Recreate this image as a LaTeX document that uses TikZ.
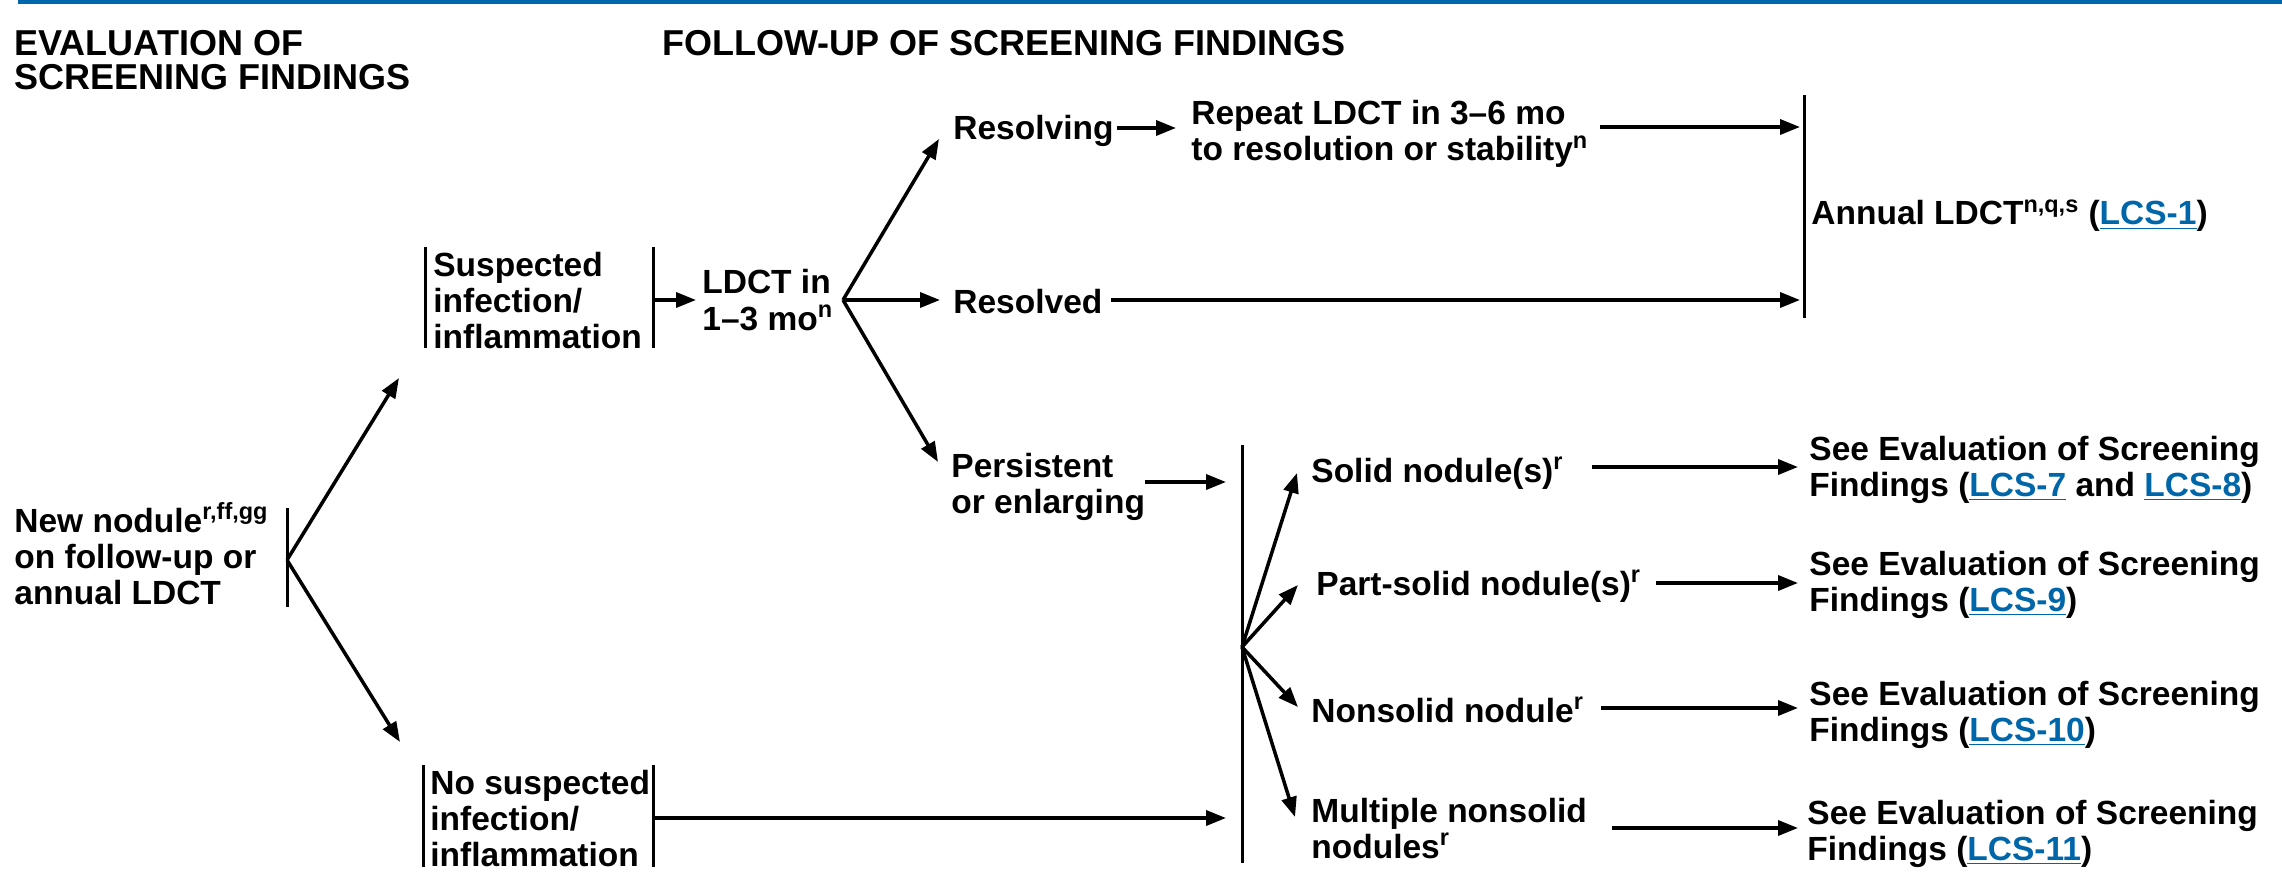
\documentclass[tikz,border=0pt]{standalone}
\usepackage{fontspec}
\setmainfont{Liberation Sans}
\usetikzlibrary{arrows.meta}
\definecolor{nccnblue}{RGB}{0,104,170}
\definecolor{linkblue}{RGB}{0,102,170}
\newcommand{\lnk}[1]{\textcolor{linkblue}{\underline{#1}}}
\newcommand{\sps}[1]{\textsuperscript{#1}}
\begin{document}
\begin{tikzpicture}[x=0.5pt,y=-0.5pt,
  txt/.style={font=\bfseries\fontsize{16.75pt}{18pt}\selectfont, inner sep=0pt, anchor=base west, align=left},
  head/.style={font=\bfseries\fontsize{18pt}{17pt}\selectfont, inner sep=0pt, anchor=base west, align=left},
  conn/.style={line width=1.75pt, -{Triangle[length=10pt,width=7.5pt]}},
  barline/.style={line width=1.5pt}]
\useasboundingbox (0,0) rectangle (2282,893);
\fill[nccnblue] (18,0) rectangle (2282,4);

% headings (multi-line nodes: base = baseline of last line)
\node[head] (h1) at (14,90) {EVALUATION OF\\SCREENING FINDINGS};
\node[head] (h2) at (662,56) {FOLLOW-UP OF SCREENING FINDINGS};

% new nodule
\node[txt] (new) at (14,604) {New nodule\sps{r,ff,gg}\\on follow-up or\\annual LDCT};
\coordinate (newT) at (287,508);
\coordinate (newB) at (287,607);
\coordinate (newM) at (287,560);
\draw[barline] (newT) -- (newB);

% suspected
\node[txt] (susp) at (433,349) {Suspected\\infection/\\inflammation};
\coordinate (suspLT) at (425,247); \coordinate (suspLB) at (425,348);
\coordinate (suspRT) at (653,247); \coordinate (suspRB) at (653,348);
\draw[barline] (suspLT) -- (suspLB);
\draw[barline] (suspRT) -- (suspRB);
\coordinate (suspIn) at (399,378);

% no suspected
\node[txt] (nosusp) at (430,866) {No suspected\\infection/\\inflammation};
\coordinate (nsLT) at (423,765); \coordinate (nsLB) at (423,867);
\coordinate (nsRT) at (653,765); \coordinate (nsRB) at (653,867);
\draw[barline] (nsLT) -- (nsLB);
\draw[barline] (nsRT) -- (nsRB);
\coordinate (nsIn) at (400,742);

\draw[conn] (newM) -- (suspIn);
\draw[conn] (newM) -- (nsIn);

% LDCT in 1-3 mo
\node[txt] (ldct) at (702,330) {LDCT in\\1–3 mo\sps{n}};
\coordinate (suspOut) at (653,300);
\coordinate (ldctIn) at (696,300);
\draw[conn] (suspOut) -- (ldctIn);
\coordinate (br1) at (843,300);
\coordinate (resgIn) at (939,139);
\coordinate (resdIn) at (940,300);
\coordinate (persIn) at (938,462);
\draw[conn] (br1) -- (resgIn);
\draw[conn] (br1) -- (resdIn);
\draw[conn] (br1) -- (persIn);

% resolving
\node[txt] (resolving) at (953,140) {Resolving};
\coordinate (resgOut) at (1117,128);
\coordinate (repIn) at (1176,128);
\draw[conn] (resgOut) -- (repIn);
\node[txt] (repeat) at (1191,161) {Repeat LDCT in 3–6 mo\\to resolution or stability\sps{n}};
\coordinate (repOut) at (1600,127);
\coordinate (annIn1) at (1800,127);
\draw[conn] (repOut) -- (annIn1);

% resolved
\node[txt] (resolved) at (953,314) {Resolved};
\coordinate (resdOut) at (1111,300);
\coordinate (annIn2) at (1800,300);
\draw[conn] (resdOut) -- (annIn2);

% annual
\coordinate (annT) at (1804,95); \coordinate (annB) at (1804,318);
\draw[barline] (annT) -- (annB);
\node[txt] (annual) at (1811,225) {Annual LDCT\sps{n,q,s} (\lnk{LCS-1})};

% persistent
\node[txt] (persist) at (951,513) {Persistent\\or enlarging};
\coordinate (persOut) at (1145,482);
\coordinate (bigIn1) at (1226,482);
\draw[conn] (persOut) -- (bigIn1);
\coordinate (nsOut) at (655,818);
\coordinate (bigIn2) at (1226,818);
\draw[conn] (nsOut) -- (bigIn2);

\coordinate (bigT) at (1242,445); \coordinate (bigB) at (1242,863);
\draw[barline] (bigT) -- (bigB);
\coordinate (br2) at (1242,647);

% nodule types
\node[txt] (solid) at (1311,482) {Solid nodule(s)\sps{r}};
\node[txt] (part) at (1316,595) {Part-solid nodule(s)\sps{r}};
\node[txt] (non) at (1311,722) {Nonsolid nodule\sps{r}};
\node[txt] (mult) at (1311,858) {Multiple nonsolid\\nodules\sps{r}};
\coordinate (solidIn) at (1297,473);
\coordinate (partIn) at (1298,585);
\coordinate (nonIn) at (1298,707);
\coordinate (multIn) at (1295,817);
\draw[conn] (br2) -- (solidIn);
\draw[conn] (br2) -- (partIn);
\draw[conn] (br2) -- (nonIn);
\draw[conn] (br2) -- (multIn);

% see evaluation
\node[txt] (see1) at (1809,496) {See Evaluation of Screening\\Findings (\lnk{LCS-7} and \lnk{LCS-8})};
\node[txt] (see2) at (1809,611) {See Evaluation of Screening\\Findings (\lnk{LCS-9})};
\node[txt] (see3) at (1809,741) {See Evaluation of Screening\\Findings (\lnk{LCS-10})};
\node[txt] (see4) at (1807,860) {See Evaluation of Screening\\Findings (\lnk{LCS-11})};

\coordinate (solidOut) at (1592,467); \coordinate (see1In) at (1798,467);
\coordinate (partOut) at (1656,583); \coordinate (see2In) at (1798,583);
\coordinate (nonOut) at (1601,708); \coordinate (see3In) at (1798,708);
\coordinate (multOut) at (1612,828); \coordinate (see4In) at (1798,828);
\draw[conn] (solidOut) -- (see1In);
\draw[conn] (partOut) -- (see2In);
\draw[conn] (nonOut) -- (see3In);
\draw[conn] (multOut) -- (see4In);
\end{tikzpicture}
\end{document}
